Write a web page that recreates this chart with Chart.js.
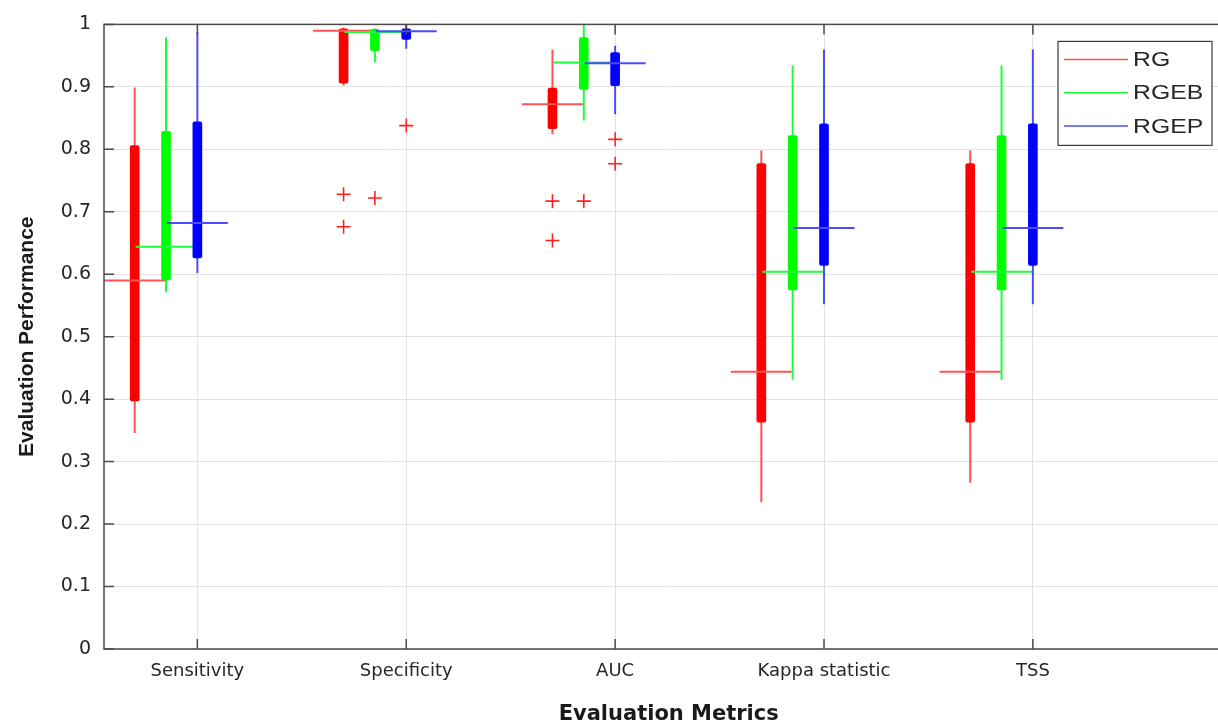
<!DOCTYPE html>
<html>
<head>
<meta charset="utf-8">
<script src="https://cdn.jsdelivr.net/npm/chart.js"></script>
<style>
  html, body { margin: 0; padding: 0; background: #fff; overflow: hidden; }
  #wrap { width: 1242px; height: 727px; }
</style>
</head>
<body>
<div id="wrap">
  <canvas id="boxchart" width="1242" height="727"></canvas>
</div>
<script>
// categories and series
const categories = ['Sensitivity', 'Specificity', 'AUC', 'Kappa statistic', 'TSS'];
const seriesNames = ['RG', 'RGEB', 'RGEP'];

// RG  (whisker low, q1, median, q3, whisker high, outliers)
const rgLow  = [0.346, 0.902, 0.824, 0.235, 0.266];
const rgQ1   = [0.397, 0.906, 0.833, 0.363, 0.363];
const rgMed  = [0.590, 0.990, 0.872, 0.444, 0.444];
const rgQ3   = [0.806, 0.993, 0.898, 0.777, 0.777];
const rgHigh = [0.899, 0.995, 0.960, 0.798, 0.798];
const rgOut  = [[], [0.728, 0.676], [0.717, 0.654], [], []];

// RGEB
const rgebLow  = [0.571, 0.939, 0.846, 0.431, 0.431];
const rgebQ1   = [0.591, 0.958, 0.896, 0.575, 0.575];
const rgebMed  = [0.644, 0.988, 0.939, 0.604, 0.604];
const rgebQ3   = [0.829, 0.992, 0.979, 0.822, 0.822];
const rgebHigh = [0.979, 0.994, 0.999, 0.934, 0.934];
const rgebOut  = [[], [0.722], [0.717], [], []];

// RGEP
const rgepLow  = [0.602, 0.961, 0.856, 0.552, 0.552];
const rgepQ1   = [0.626, 0.976, 0.902, 0.614, 0.614];
const rgepMed  = [0.682, 0.989, 0.938, 0.674, 0.674];
const rgepQ3   = [0.844, 0.993, 0.955, 0.841, 0.841];
const rgepHigh = [0.987, 0.999, 0.966, 0.960, 0.960];
const rgepOut  = [[], [0.838], [0.816, 0.777], [], []];

// y tick values
const yTicks = [0, 0.1, 0.2, 0.3, 0.4, 0.5, 0.6, 0.7, 0.8, 0.9, 1];

// styling
const offsets = [-0.3, -0.15, 0];       // box position inside a group (category units)
const medianHalf = 0.146;               // half length of the median line
const boxColors = ['#ff0000', '#00ff00', '#0000ff'];
const lineColors = ['#ff5252', '#1aff3a', '#4b4bff'];
const outlierColor = '#ff2020';

const stats = [
  {low: rgLow, q1: rgQ1, med: rgMed, q3: rgQ3, high: rgHigh, out: rgOut},
  {low: rgebLow, q1: rgebQ1, med: rgebMed, q3: rgebQ3, high: rgebHigh, out: rgebOut},
  {low: rgepLow, q1: rgepQ1, med: rgepMed, q3: rgepQ3, high: rgepHigh, out: rgepOut}
];

// build datasets (matlab style: thin whisker, thick box, median line, + outliers)
const datasets = [];
stats.forEach((s, k) => {
  const whisk = [], box = [], med = [], outs = [];
  categories.forEach((c, i) => {
    const x = i + offsets[k];
    whisk.push({x: x, y: s.low[i]}, {x: x, y: s.high[i]}, {x: x, y: null});
    box.push({x: x, y: [s.q1[i], s.q3[i]]});
    med.push({x: x - medianHalf, y: s.med[i]}, {x: x + medianHalf, y: s.med[i]}, {x: x, y: null});
    s.out[i].forEach(v => outs.push({x: x, y: v}));
  });
  const base = 12 - k * 4;
  datasets.push({
    type: 'line', label: seriesNames[k] + ' whisker', data: whisk,
    borderColor: lineColors[k], borderWidth: 2, pointRadius: 0, spanGaps: false, order: base
  });
  datasets.push({
    type: 'bar', label: seriesNames[k] + ' box', data: box,
    backgroundColor: boxColors[k], barThickness: 9, grouped: false,
    borderRadius: 2, borderSkipped: false, order: base - 1
  });
  datasets.push({
    type: 'line', label: seriesNames[k] + ' median', data: med,
    borderColor: lineColors[k], borderWidth: 2, pointRadius: 0, spanGaps: false, order: base - 2
  });
  datasets.push({
    type: 'scatter', label: seriesNames[k] + ' outliers', data: outs,
    pointStyle: 'cross', pointRadius: 7, borderColor: outlierColor,
    borderWidth: 1.6, order: 0
  });
});

// axes box with inward ticks, like matlab
const axesBox = {
  id: 'axesBox',
  afterDraw(chart) {
    const {ctx, chartArea: a, scales} = chart;
    ctx.save();
    ctx.strokeStyle = '#4a4a4a';
    ctx.lineWidth = 1.5;
    ctx.strokeRect(a.left, a.top, a.right - a.left, a.bottom - a.top);
    ctx.beginPath();
    yTicks.forEach(v => {
      const y = scales.y.getPixelForValue(v);
      ctx.moveTo(a.left, y); ctx.lineTo(a.left + 10, y);
      ctx.moveTo(a.right, y); ctx.lineTo(a.right - 10, y);
    });
    categories.forEach((c, i) => {
      const x = scales.x.getPixelForValue(i);
      ctx.moveTo(x, a.bottom); ctx.lineTo(x, a.bottom - 10);
      ctx.moveTo(x, a.top); ctx.lineTo(x, a.top + 10);
    });
    ctx.stroke();
    ctx.restore();
  }
};

// legend box in the upper right corner
const boxLegend = {
  id: 'boxLegend',
  afterDraw(chart) {
    const {ctx, chartArea: a} = chart;
    const w = 154, h = 104;
    const x0 = 1058, y0 = a.top + 17;
    ctx.save();
    ctx.fillStyle = '#fff';
    ctx.fillRect(x0, y0, w, h);
    ctx.strokeStyle = '#3a3a3a';
    ctx.lineWidth = 1.2;
    ctx.strokeRect(x0, y0, w, h);
    seriesNames.forEach((name, k) => {
      const y = y0 + 18 + k * 33.3;
      ctx.strokeStyle = lineColors[k];
      ctx.lineWidth = 1.5;
      ctx.beginPath();
      ctx.moveTo(x0 + 6, y); ctx.lineTo(x0 + 70, y);
      ctx.stroke();
      ctx.save();
      ctx.translate(x0 + 75, y + 1);
      ctx.scale(1.18, 1);
      ctx.fillStyle = '#262626';
      ctx.font = '21px "Liberation Sans", Arial, sans-serif';
      ctx.textBaseline = 'middle';
      ctx.fillText(name, 0, 0);
      ctx.restore();
    });
    ctx.restore();
  }
};

const config = {
  data: { datasets: datasets },
  options: {
    responsive: false,
    animation: false,
    layout: { padding: { left: 0, right: 2, top: 22, bottom: 0 } },
    plugins: { legend: { display: false }, tooltip: { enabled: false } },
    scales: {
      x: {
        type: 'linear', min: -0.447, max: 4.96, offset: false,
        afterBuildTicks: (scale) => { scale.ticks = categories.map((c, i) => ({value: i})); },
        afterFit: (scale) => { scale.height = 78; },
        ticks: {
          callback: (v) => categories[v],
          color: '#262626', padding: 12, maxRotation: 0, autoSkip: false,
          font: { family: '"DejaVu Sans", sans-serif', size: 18 }
        },
        grid: { color: '#e2e2e2', lineWidth: 1, drawTicks: false, offset: false },
        border: { display: false },
        title: {
          display: true, text: 'Evaluation Metrics', color: '#1a1a1a',
          padding: { top: 0, bottom: 0 },
          font: { family: '"DejaVu Sans", sans-serif', size: 21, weight: 'bold' }
        }
      },
      y: {
        type: 'linear', min: 0, max: 1,
        afterBuildTicks: (scale) => { scale.ticks = yTicks.map(v => ({value: v})); },
        afterFit: (scale) => { scale.width = 104; },
        ticks: {
          callback: (v) => String(Number(v.toFixed(1))),
          color: '#262626', padding: 13,
          font: { family: '"DejaVu Sans", sans-serif', size: 19 }
        },
        grid: { color: '#e2e2e2', lineWidth: 1, drawTicks: false },
        border: { display: false },
        title: {
          display: true, text: 'Evaluation Performance', color: '#1a1a1a',
          padding: { top: 15, bottom: 0 },
          font: { family: '"Liberation Sans", Arial, sans-serif', size: 21, weight: 'bold' }
        }
      }
    }
  },
  plugins: [axesBox, boxLegend]
};

const canvas = document.getElementById('boxchart');
const boxchart = new Chart(canvas, config);
</script>
</body>
</html>
